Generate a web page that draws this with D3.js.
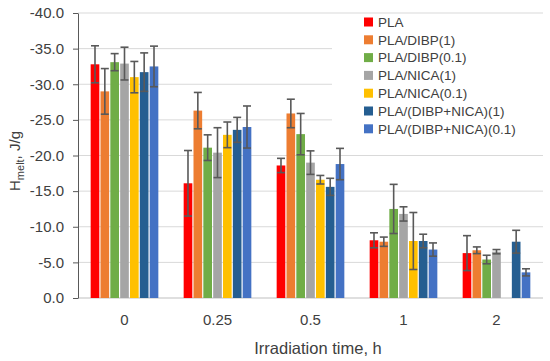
<!DOCTYPE html>
<html>
<head>
<meta charset="utf-8">
<script src="https://cdn.jsdelivr.net/npm/d3@7/dist/d3.min.js"></script>
<style>
  html, body { margin: 0; padding: 0; background: #fff; }
  svg { display: block; font-family: "Liberation Sans", Arial, sans-serif; }
</style>
</head>
<body>
<svg id="chart" width="550" height="361"></svg>
<script>
// ---- data ----
const categories = ["0", "0.25", "0.5", "1", "2"];
const seriesNames = ["PLA", "PLA/DIBP(1)", "PLA/DIBP(0.1)", "PLA/NICA(1)", "PLA/NICA(0.1)", "PLA/(DIBP+NICA)(1)", "PLA/(DIBP+NICA)(0.1)"];
const seriesColors = ["#FF0000", "#ED7D31", "#70AD47", "#A5A5A5", "#FFC000", "#255E91", "#4472C4"];

const pla       = [-32.8, -16.1, -18.6, -8.1, -6.3];
const plaDibp1  = [-29.0, -26.3, -25.9, -7.9, -6.7];
const plaDibp01 = [-33.1, -21.1, -23.0, -12.5, -5.4];
const plaNica1  = [-32.9, -20.4, -19.0, -11.8, -6.5];
const plaNica01 = [-31.0, -22.9, -16.6, -8.0, null];
const plaMix1   = [-31.7, -23.6, -15.6, -8.0, -7.9];
const plaMix01  = [-32.5, -24.0, -18.8, -6.8, -3.6];

const plaErr       = [2.6, 4.6, 1.0, 1.05, 2.45];
const plaDibp1Err  = [3.2, 2.55, 2.0, 0.65, 0.47];
const plaDibp01Err = [1.2, 1.8, 2.9, 3.45, 0.6];
const plaNica1Err  = [2.3, 3.5, 1.65, 1.0, 0.3];
const plaNica01Err = [2.2, 1.8, 0.6, 4.0, null];
const plaMix1Err   = [2.7, 1.75, 1.2, 0.95, 1.6];
const plaMix01Err  = [2.85, 2.95, 2.2, 0.93, 0.5];

const yTicks = [0, -5, -10, -15, -20, -25, -30, -35, -40];

const seriesValues = [pla, plaDibp1, plaDibp01, plaNica1, plaNica01, plaMix1, plaMix01];
const seriesErrors = [plaErr, plaDibp1Err, plaDibp01Err, plaNica1Err, plaNica01Err, plaMix1Err, plaMix01Err];

// ---- layout ----
const svg = d3.select("#chart");
const plotL = 78, plotR = 543, plotT = 13, plotB = 298;

const x0 = d3.scaleBand().domain(categories).range([plotL, plotR])
  .paddingInner(0.247).paddingOuter(0.1235);
const x1 = d3.scaleBand().domain(seriesNames).range([0, x0.bandwidth()]).padding(0.12);
const y = d3.scaleLinear().domain([0, -40]).range([plotB, plotT]);

// gridlines
svg.append("g").selectAll("line").data(yTicks.filter(d => d !== 0)).join("line")
  .attr("x1", plotL).attr("x2", plotR)
  .attr("y1", d => y(d)).attr("y2", d => y(d))
  .attr("stroke", "#d9d9d9").attr("stroke-width", 1);

// legend background
svg.append("rect").attr("x", 332).attr("y", 15).attr("width", 213).attr("height", 123).attr("fill", "#fff");

// x baseline
svg.append("line").attr("x1", plotL).attr("x2", plotR).attr("y1", plotB).attr("y2", plotB)
  .attr("stroke", "#bfbfbf").attr("stroke-width", 1);

// bars
const rows = [];
seriesNames.forEach((s, si) => {
  categories.forEach((c, ci) => {
    const v = seriesValues[si][ci];
    if (v !== null) rows.push({ s, si, c, v, e: seriesErrors[si][ci] });
  });
});

svg.append("g").selectAll("rect").data(rows).join("rect")
  .attr("x", d => x0(d.c) + x1(d.s))
  .attr("width", x1.bandwidth())
  .attr("y", d => y(d.v))
  .attr("height", d => y(0) - y(d.v))
  .attr("fill", d => seriesColors[d.si]);

// error bars
const eg = svg.append("g").attr("stroke", "#595959").attr("stroke-width", 1.6).attr("fill", "none");
rows.forEach(d => {
  const cx = x0(d.c) + x1(d.s) + x1.bandwidth() / 2;
  const y1 = y(d.v - d.e), y2 = y(d.v + d.e);
  eg.append("line").attr("x1", cx).attr("x2", cx).attr("y1", y1).attr("y2", y2);
  eg.append("line").attr("x1", cx - 4).attr("x2", cx + 4).attr("y1", y1).attr("y2", y1);
  eg.append("line").attr("x1", cx - 4).attr("x2", cx + 4).attr("y1", y2).attr("y2", y2);
});

// y axis
const yAxis = d3.axisLeft(y).tickValues(yTicks).tickSize(5).tickSizeOuter(0)
  .tickFormat(d => d.toFixed(1)).tickPadding(9);
const ya = svg.append("g").attr("transform", `translate(${plotL},0)`).call(yAxis);
ya.select(".domain").attr("stroke", "#595959");
ya.selectAll(".tick line").attr("stroke", "#595959");
ya.selectAll(".tick text").attr("fill", "#404040").style("font-size", "15px")
  .style("font-family", '"Liberation Sans", Arial, sans-serif');

// x axis labels
const xAxis = d3.axisBottom(x0).tickSize(0).tickPadding(16);
const xa = svg.append("g").attr("transform", `translate(0,${plotB})`).call(xAxis);
xa.select(".domain").remove();
xa.selectAll(".tick text").attr("fill", "#404040").style("font-size", "15px")
  .style("font-family", '"Liberation Sans", Arial, sans-serif');

// axis titles
svg.append("text").attr("x", 318).attr("y", 354).attr("text-anchor", "middle")
  .attr("fill", "#404040").style("font-size", "16.5px").text("Irradiation time, h");

const yt = svg.append("text").attr("transform", "translate(20,161) rotate(-90)")
  .attr("text-anchor", "middle").attr("fill", "#404040").style("font-size", "15px");
yt.append("tspan").text("H");
yt.append("tspan").attr("dy", 4).style("font-size", "11px").text("melt");
yt.append("tspan").attr("dy", -4).text(", J/g");

// legend
const lg = svg.append("g").selectAll("g").data(seriesNames).join("g")
  .attr("transform", (d, i) => `translate(364,${22 + i * 17.8})`);
lg.append("rect").attr("x", 0).attr("y", -4.5).attr("width", 9).attr("height", 9)
  .attr("fill", (d, i) => seriesColors[i]);
lg.append("text").attr("x", 14).attr("y", 0).attr("dy", "0.35em")
  .attr("fill", "#404040").style("font-size", "13.5px").text(d => d);
</script>
</body>
</html>
